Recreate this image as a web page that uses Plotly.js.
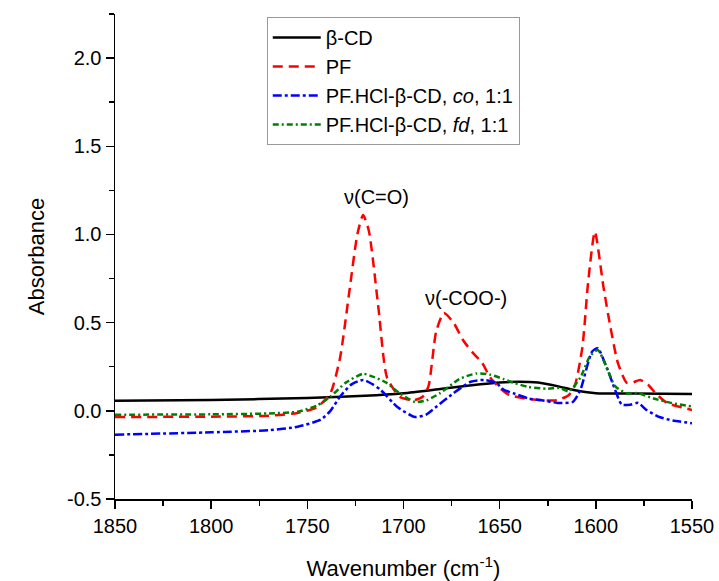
<!DOCTYPE html>
<html>
<head>
<meta charset="utf-8">
<script src="https://cdn.plot.ly/plotly-3.0.1.min.js"></script>
<style>html,body{margin:0;padding:0;background:#fff;}#chart{width:719px;height:581px;}</style>
</head>
<body>
<div id="chart"></div>
<script>
// beta-CD
const cdX = [1850,1800,1750,1720,1700,1680,1660,1650,1640,1630,1620,1610,1600,1580,1550];
const cdY = [0.057,0.062,0.072,0.085,0.10,0.125,0.15,0.16,0.165,0.16,0.14,0.115,0.10,0.098,0.095];

// PF
const pfX = [1850,1800,1770,1755,1745,1738,1733,1728,1724,1721,1718,1713,1708.6,1702,1695,1690,1687,1683,1679,1674,1669,1664,1659,1655,1650,1645,1637,1628,1620,1614,1611,1607,1604,1600.5,1596,1592.5,1588.5,1584,1581,1577,1573,1569,1563,1550];
const pfY = [-0.035,-0.033,-0.028,-0.012,0.02,0.10,0.30,0.69,1.0,1.11,1.02,0.58,0.19,0.08,0.06,0.08,0.14,0.45,0.555,0.50,0.40,0.33,0.27,0.19,0.13,0.09,0.07,0.06,0.06,0.09,0.14,0.36,0.73,1.015,0.70,0.48,0.27,0.16,0.16,0.175,0.15,0.10,0.045,0.005];

// PF.HCl-beta-CD, co, 1:1
const coX = [1850,1800,1770,1755,1743,1738,1733,1727,1721,1716,1712,1703,1694,1688,1685,1674,1665,1658,1652,1648,1643,1635,1628,1620,1612,1608,1602,1599,1594.5,1590,1586.5,1582,1578,1573.7,1567,1560,1550];
const coY = [-0.135,-0.122,-0.11,-0.09,-0.05,0.0,0.08,0.15,0.175,0.15,0.12,0.02,-0.035,-0.02,0.005,0.10,0.165,0.175,0.16,0.12,0.10,0.07,0.06,0.045,0.05,0.12,0.335,0.355,0.25,0.12,0.035,0.035,0.045,0.005,-0.035,-0.055,-0.07];

// PF.HCl-beta-CD, fd, 1:1
const fdX = [1850,1800,1770,1755,1745,1738,1730,1721,1715,1709,1702,1694,1688,1681,1671,1662,1655,1648,1643,1635,1625,1619,1614,1608,1603,1599,1594.5,1590,1584,1578,1570,1561,1550];
const fdY = [-0.022,-0.02,-0.015,-0.005,0.03,0.08,0.16,0.21,0.19,0.16,0.10,0.05,0.06,0.10,0.18,0.212,0.205,0.18,0.16,0.135,0.125,0.13,0.11,0.19,0.31,0.345,0.25,0.14,0.10,0.10,0.07,0.045,0.025];

const xTicks = [1850,1800,1750,1700,1650,1600,1550];
const yTicks = [-0.5,0.0,0.5,1.0,1.5,2.0];
const yTickText = ['-0.5','0.0','0.5','1.0','1.5','2.0'];

const names = ['\u03b2-CD','PF','PF.HCl-\u03b2-CD, <i>co</i>, 1:1','PF.HCl-\u03b2-CD, <i>fd</i>, 1:1'];

const traces = [
  {x: cdX, y: cdY, name: names[0], mode: 'lines', line: {color: '#000000', width: 2.5, shape: 'spline', smoothing: 0.6}},
  {x: pfX, y: pfY, name: names[1], mode: 'lines', line: {color: '#ff0000', width: 2.5, dash: '10px,6px', shape: 'spline', smoothing: 0.6}},
  {x: coX, y: coY, name: names[2], mode: 'lines', line: {color: '#0000ff', width: 2.5, dash: '9px,3px,3px,3px', shape: 'spline', smoothing: 0.6}},
  {x: fdX, y: fdY, name: names[3], mode: 'lines', line: {color: '#008000', width: 2.5, dash: '6px,3px,2px,3px', shape: 'spline', smoothing: 0.6}}
];

const FAM = 'Arial, "Liberation Sans", sans-serif';
const axisFont = {family: FAM, size: 20, color: '#000'};

const layout = {
  width: 719, height: 581,
  margin: {l: 115, r: 27, t: 14, b: 82},
  paper_bgcolor: '#fff', plot_bgcolor: '#fff',
  font: axisFont,
  showlegend: true,
  legend: {x: 0.263, y: 0.994, xanchor: 'left', yanchor: 'top', bgcolor: '#fff', bordercolor: '#999', borderwidth: 1,
           itemwidth: 48, font: {family: FAM, size: 20, color: '#000'}, tracegroupgap: 0},
  xaxis: {
    range: [1850, 1550], tickvals: xTicks, ticks: 'outside', ticklen: 8, tickwidth: 1.5, tickcolor: '#000',
    showline: true, linecolor: '#000', linewidth: 1.5, showgrid: false, zeroline: false, mirror: false,
    tickfont: axisFont,
    minor: {dtick: 25, tick0: 1550, ticks: 'outside', ticklen: 5, tickwidth: 1.5, tickcolor: '#000', showgrid: false},
    title: {text: 'Wavenumber (cm<sup>-1</sup>)', font: {family: FAM, size: 22, color: '#000'}, standoff: 26}
  },
  yaxis: {
    range: [-0.5, 2.25], tickvals: yTicks, ticktext: yTickText, ticks: 'outside', ticklen: 8, tickwidth: 1.5, tickcolor: '#000',
    showline: true, linecolor: '#000', linewidth: 1.5, showgrid: false, zeroline: false, mirror: false,
    tickfont: axisFont,
    minor: {dtick: 0.25, tick0: 0, ticks: 'outside', ticklen: 5, tickwidth: 1.5, tickcolor: '#000', showgrid: false},
    title: {text: 'Absorbance', font: {family: FAM, size: 22, color: '#000'}, standoff: 16}
  },
  annotations: [
    {x: 1713.8, y: 1.21, xref: 'x', yref: 'y', text: '\u03bd(C=O)', showarrow: false, font: {family: FAM, size: 20, color: '#000'}},
    {x: 1667.5, y: 0.64, xref: 'x', yref: 'y', text: '\u03bd(-COO-)', showarrow: false, font: {family: FAM, size: 20, color: '#000'}}
  ]
};

Plotly.newPlot('chart', traces, layout, {displayModeBar: false, staticPlot: true});
</script>
</body>
</html>
